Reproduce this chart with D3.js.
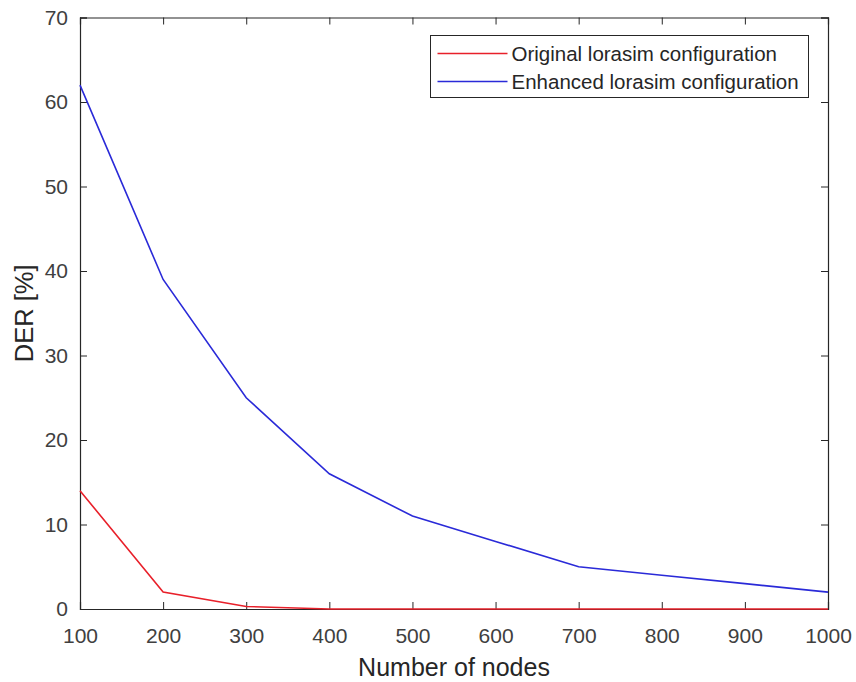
<!DOCTYPE html>
<meta charset="utf-8">
<title>DER vs number of nodes</title>
<style>
body { margin: 0; background: #fff; }
.tick text { font-family: "Liberation Sans", Arial, sans-serif; font-size: 21px; fill: #404040; }
.line { fill: none; stroke-width: 1.6px; }
</style>
<body>
<svg width="856" height="682"></svg>
<script src="https://d3js.org/d3.v7.min.js"></script>
<script>
// data
var nodes = [100, 200, 300, 400, 500, 600, 700, 800, 900, 1000];
var original = [14, 2, 0.3, 0, 0, 0, 0, 0, 0, 0];
var enhanced = [62, 39, 25, 16, 11, 8, 5, 4, 3, 2];
var xTicks = [100, 200, 300, 400, 500, 600, 700, 800, 900, 1000];
var yTicks = [0, 10, 20, 30, 40, 50, 60, 70];
var seriesNames = ["Original lorasim configuration", "Enhanced lorasim configuration"];
var seriesColors = ["#e8202a", "#2a2ad8"];

var svg = d3.select("svg"),
    margin = {top: 17.5, right: 28, bottom: 73, left: 80},
    width = +svg.attr("width") - margin.left - margin.right,
    height = +svg.attr("height") - margin.top - margin.bottom,
    g = svg.append("g").attr("transform", "translate(" + margin.left + "," + margin.top + ")");

var x = d3.scaleLinear().domain([100, 1000]).range([0, width]),
    y = d3.scaleLinear().domain([0, 70]).range([height, 0]);

var axisColor = "#262626";

// bottom and left axes with labels, ticks pointing inward
var xAxis = g.append("g")
    .attr("transform", "translate(0," + height + ")")
    .call(d3.axisBottom(x).tickValues(xTicks).tickSize(-7).tickPadding(19).tickFormat(d3.format("d")));
var yAxis = g.append("g")
    .call(d3.axisLeft(y).tickValues(yTicks).tickSize(-7).tickPadding(12));

// top and right ticks, no labels
var xTop = g.append("g")
    .call(d3.axisTop(x).tickValues(xTicks).tickSize(-7).tickFormat(""));
var yRight = g.append("g")
    .attr("transform", "translate(" + width + ",0)")
    .call(d3.axisRight(y).tickValues(yTicks).tickSize(-7).tickFormat(""));

[xAxis, yAxis, xTop, yRight].forEach(function(a) {
  a.select(".domain").attr("stroke", axisColor).attr("stroke-width", 1.2);
  a.selectAll(".tick line").attr("stroke", axisColor);
});

var line = d3.line()
    .x(function(d) { return x(d[0]); })
    .y(function(d) { return y(d[1]); });

var series = [original, enhanced];
series.forEach(function(vals, i) {
  g.append("path")
      .datum(d3.zip(nodes, vals))
      .attr("class", "line")
      .attr("stroke", seriesColors[i])
      .attr("d", line);
});

// axis titles
svg.append("text")
    .attr("x", margin.left + width / 2)
    .attr("y", 676)
    .attr("text-anchor", "middle")
    .style("font-family", "Liberation Sans, Arial, sans-serif")
    .style("font-size", "25px")
    .attr("fill", "#262626")
    .text("Number of nodes");

svg.append("text")
    .attr("transform", "translate(33," + (margin.top + height / 2) + ") rotate(-90)")
    .attr("text-anchor", "middle")
    .style("font-family", "Liberation Sans, Arial, sans-serif")
    .style("font-size", "25.5px")
    .attr("fill", "#262626")
    .text("DER [%]");

// legend
var legend = svg.append("g").attr("transform", "translate(430.5,35.5)");
legend.append("rect")
    .attr("width", 378)
    .attr("height", 62)
    .attr("fill", "#fff")
    .attr("stroke", axisColor)
    .attr("stroke-width", 1);

seriesNames.forEach(function(name, i) {
  var yy = 18 + i * 28;
  legend.append("line")
      .attr("x1", 7).attr("x2", 77)
      .attr("y1", yy).attr("y2", yy)
      .attr("stroke", seriesColors[i])
      .attr("stroke-width", 1.6);
  legend.append("text")
      .attr("x", 81)
      .attr("y", yy)
      .attr("dy", "0.35em")
      .style("font-family", "Liberation Sans, Arial, sans-serif")
      .style("font-size", "20.5px")
      .attr("fill", "#262626")
      .text(name);
});
</script>
</body>
